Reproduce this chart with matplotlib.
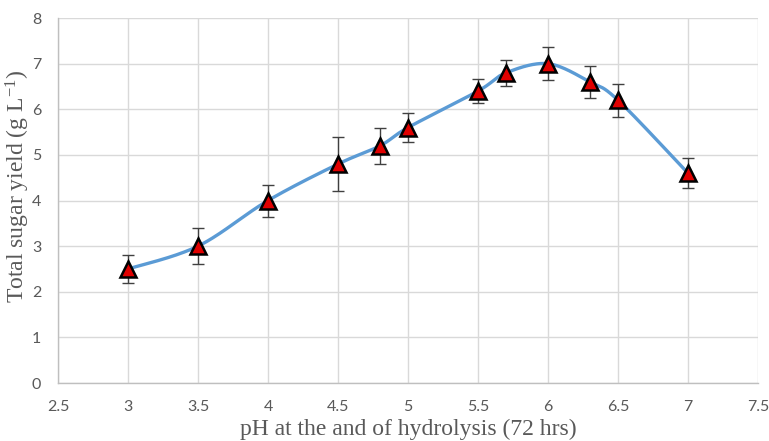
import numpy as np
import matplotlib
matplotlib.use("Agg")
import matplotlib.pyplot as plt

ph = [3, 3.5, 4, 4.5, 4.8, 5, 5.5, 5.7, 6, 6.3, 6.5, 7]
sugar = [2.5, 3.0, 4.0, 4.8, 5.2, 5.6, 6.4, 6.8, 7.0, 6.6, 6.2, 4.6]
err = [0.3, 0.4, 0.35, 0.6, 0.4, 0.32, 0.27, 0.28, 0.36, 0.35, 0.36, 0.33]
xticks = [2.5, 3, 3.5, 4, 4.5, 5, 5.5, 6, 6.5, 7, 7.5]
yticks = [0, 1, 2, 3, 4, 5, 6, 7, 8]


def smooth(x, y, n=40, t=1/6):
    # Excel-style smoothed line (Catmull-Rom Bezier)
    x = np.asarray(x, float); y = np.asarray(y, float)
    px = np.concatenate([[x[0]], x, [x[-1]]])
    py = np.concatenate([[y[0]], y, [y[-1]]])
    xs, ys = [], []
    s = np.linspace(0, 1, n)
    for i in range(1, len(px) - 2):
        p0 = np.array([px[i], py[i]]); p3 = np.array([px[i + 1], py[i + 1]])
        p1 = p0 + t * (np.array([px[i + 1], py[i + 1]]) - np.array([px[i - 1], py[i - 1]]))
        p2 = p3 - t * (np.array([px[i + 2], py[i + 2]]) - np.array([px[i], py[i]]))
        b = ((1 - s) ** 3)[:, None] * p0 + (3 * (1 - s) ** 2 * s)[:, None] * p1 + \
            (3 * (1 - s) * s ** 2)[:, None] * p2 + (s ** 3)[:, None] * p3
        xs.extend(b[:, 0]); ys.extend(b[:, 1])
    return np.array(xs), np.array(ys)


plt.rcParams["mathtext.fontset"] = "custom"
plt.rcParams["mathtext.rm"] = "Liberation Serif"
plt.rcParams["mathtext.it"] = "Liberation Serif:italic"

fig = plt.figure(figsize=(7.69, 4.41), dpi=100)
ax = fig.add_axes([0.0754, 0.1315, 0.9103, 0.8275])

sx, sy = smooth(ph, sugar)
ax.plot(sx, sy, color="#5B9BD5", lw=2.4, zorder=3)
ax.errorbar(ph, sugar, yerr=err, fmt="none", ecolor="#404040", elinewidth=1.0,
            capsize=4, capthick=1.0, zorder=4)
ax.plot(ph, sugar, linestyle="none", marker="^", markersize=11, markerfacecolor="#E00000",
        markeredgecolor="black", markeredgewidth=1.8, zorder=5)

ax.set_xlim(2.5, 7.5)
ax.set_ylim(0, 8)
ax.set_xticks(xticks)
ax.set_yticks(yticks)
ax.set_xticklabels([f"{v:g}" for v in xticks])
ax.set_yticklabels([f"{v:g}" for v in yticks])
ax.grid(True, color="#D9D9D9", lw=1.0)
ax.set_axisbelow(True)
for side in ["top", "right"]:
    ax.spines[side].set_visible(False)
for side in ["left", "bottom"]:
    ax.spines[side].set_color("#BFBFBF")
    ax.spines[side].set_linewidth(1.0)
ax.tick_params(length=0, labelsize=11.5, labelcolor="#595959")
ax.tick_params(axis="x", pad=12)
ax.tick_params(axis="y", pad=12)
for lab in ax.get_xticklabels() + ax.get_yticklabels():
    lab.set_family("Lato")

ax.set_xlabel("pH at the and of hydrolysis (72 hrs)", family="Liberation Serif",
              fontsize=17, color="#595959", labelpad=4)
ax.set_ylabel("Total sugar yield (g L$^{-1}$)", family="Liberation Serif",
              fontsize=17, color="#595959")
ax.yaxis.set_label_coords(-0.037, 0.54)

fig.savefig("out.png", dpi=100)
